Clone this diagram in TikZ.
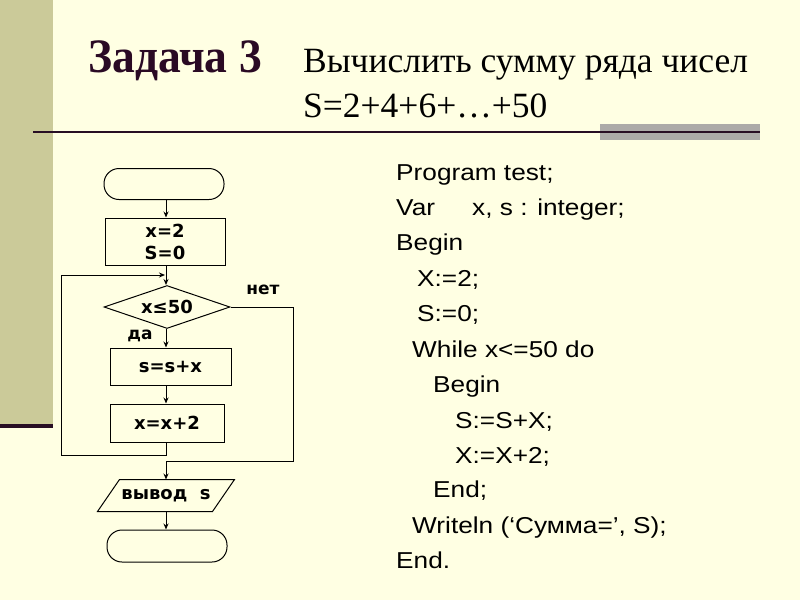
\documentclass[tikz,border=0pt]{standalone}
\usepackage{fontspec}
\setmainfont{Liberation Serif}
\newfontfamily\codefont[FakeStretch=1.14]{Liberation Sans}
\newfontfamily\titlefont[FakeStretch=0.95]{Liberation Serif}
\newfontfamily\flowfont{DejaVu Sans}
\usetikzlibrary{shapes.geometric,arrows.meta,calc}
\definecolor{bgcol}{RGB}{255,255,227}
\definecolor{bandcol}{RGB}{203,202,153}
\definecolor{darkline}{RGB}{40,14,36}
\definecolor{graybar}{RGB}{172,170,168}
\definecolor{titlecol}{RGB}{42,10,36}
\tikzset{
  flow/.style={draw=black,line width=1pt,fill=none,font=\flowfont\bfseries\fontsize{18}{21}\selectfont,inner sep=0pt,align=center},
  term/.style={flow,rounded corners=15pt,minimum width=120pt,minimum height=31pt},
  proc/.style={flow,rectangle},
  cond/.style={flow,diamond,aspect=3},
  conn/.style={line width=1pt,draw=black},
  arr/.style={conn,-{Stealth[length=6pt,width=5pt]}},
  lbl/.style={font=\flowfont\bfseries\fontsize{17}{20}\selectfont,inner sep=0pt},
  code/.style={anchor=base west,inner sep=0pt,font=\codefont\fontsize{23}{27}\selectfont},
}
\begin{document}
\begin{tikzpicture}[x=1pt,y=-1pt]
\useasboundingbox (0,0) rectangle (800,600);
\fill[bgcol] (0,0) rectangle (800,600);
\fill[bandcol] (0,0) rectangle (53,424);
\fill[darkline] (0,424) rectangle (53,428);
\fill[graybar] (600,124) rectangle (760,140);
\draw[line width=2.5pt,darkline] (33,132) -- (760,132);
% title
\node[anchor=base west,inner sep=0pt,font=\titlefont\bfseries\fontsize{48}{52}\selectfont,text=titlecol] (t1) at (88,72) {Задача 3};
\node[anchor=base west,inner sep=0pt,font=\fontsize{35.5}{40}\selectfont] (t2) at (303,72) {Вычислить сумму ряда чисел};
\node[anchor=base west,inner sep=0pt,font=\fontsize{35.5}{40}\selectfont] (t3) at (303,117) {S=2+4+6+…+50};
% flowchart
\node[term] (start) at (164,184) {};
\node[proc,minimum width=120pt,minimum height=47pt] (init) at (165,241.5) {x=2\\[1pt]S=0};
\node[cond,minimum width=126pt,minimum height=43pt] (dec) at (167,307) {x≤50};
\node[proc,minimum width=121pt,minimum height=37pt] (body1) at (170.5,366.5) {s=s+x};
\node[proc,minimum width=114pt,minimum height=38pt] (body2) at (167,423) {x=x+2};
\node[flow,draw=none,minimum width=114pt,minimum height=31pt] (outp) at (166,495.5) {вывод\ \ s};
\draw[line width=1pt] ($(outp.north west)+(11,0)$) -- ($(outp.north east)+(11,0)$) -- ($(outp.south east)+(-11,0)$) -- ($(outp.south west)+(-11,0)$) -- cycle;
\node[term,minimum height=32pt] (stop) at (167,546) {};
\node[lbl] (no) at (263,290) {нет};
\node[lbl] (yes) at (140,336) {да};
\coordinate (loopin) at (166,275);
\coordinate (loopbot) at (166,455);
\coordinate (exitbot) at (166,461);
\draw[arr] (start.south -| loopin) -- (init.north -| loopin);
\draw[arr] (init.south -| loopin) -- (dec.north -| loopin);
\draw[arr] (dec.south -| loopin) -- (body1.north -| loopin);
\draw[arr] (body1.south -| loopin) -- (body2.north -| loopin);
\draw[arr] (body2.south -| loopin) -- (loopbot) -- (61,455) -- (61,275) -- ($(loopin)+(-1,0)$);
\draw[arr] (dec.east) -- (293,307) -- (293,461) -- (exitbot) -- (outp.north -| exitbot);
\draw[arr] (outp.south -| exitbot) -- (stop.north -| exitbot);
% code
\node[code] (c1) at (396,180) {Program test;};
\node[code] (c2) at (396,215) {\makebox[76pt][l]{Var}x, s : integer;};
\node[code] (c3) at (396,250) {Begin};
\node[code] (c4) at (417,286) {X:=2;};
\node[code] (c5) at (417,321) {S:=0;};
\node[code] (c6) at (412,357) {While x<=50 do};
\node[code] (c7) at (433,392) {Begin};
\node[code] (c8) at (455,428) {S:=S+X;};
\node[code] (c9) at (455,463) {X:=X+2;};
\node[code] (c10) at (433,497) {End;};
\node[code] (c11) at (412,533) {Writeln (‘Сумма=’, S);};
\node[code] (c12) at (396,568) {End.};
\end{tikzpicture}
\end{document}
